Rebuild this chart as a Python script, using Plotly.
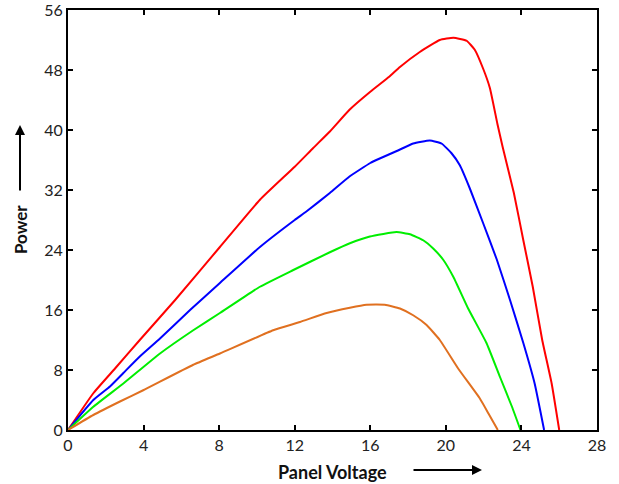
import plotly.graph_objects as go

# Panel voltage (V) and power (W)
red_v = [0, 1.34, 2.49, 3.8, 5.66, 8.04, 10.16, 12.0, 12.98, 13.86, 14.9, 16.0, 17.0, 17.57, 18.62, 19.68,
         20.4, 21.1, 21.53, 21.97, 22.33, 22.73, 23.0, 23.6, 24.1, 24.6, 25.1, 25.6, 26.0]
red_p = [0, 4.9, 8.2, 12.0, 17.3, 24.4, 30.7, 35.1, 37.6, 39.8, 42.7, 45.1, 47.1, 48.4, 50.4, 52.0,
         52.3, 51.9, 50.7, 48.2, 45.6, 40.8, 37.8, 31.6, 25.3, 19.1, 12.0, 6.2, 0]

blue_v = [0, 1.34, 2.22, 2.93, 3.8, 4.87, 6.46, 8.04, 10.16, 12.0, 12.6, 13.86, 14.9, 16.0, 16.5, 17.4,
          18.27, 19.15, 19.77, 20.3, 20.74, 21.27, 21.97, 22.7, 23.4, 24.1, 24.7, 25.2]
blue_p = [0, 4.0, 5.8, 7.6, 9.8, 12.2, 16.0, 19.6, 24.4, 28.0, 29.1, 31.6, 33.8, 35.6, 36.2, 37.2,
          38.2, 38.6, 38.2, 36.9, 35.3, 32.2, 27.6, 22.7, 17.3, 11.6, 6.2, 0]

green_v = [0, 1.34, 2.93, 4.87, 6.63, 8.04, 10.16, 11.9, 13.86, 14.92, 15.98, 17.39, 18.1, 18.8, 19.33,
           19.86, 20.4, 21.18, 22.15, 22.86, 23.5, 23.95]
green_p = [0, 3.1, 6.2, 10.2, 13.3, 15.6, 19.1, 21.3, 23.7, 24.9, 25.8, 26.4, 26.1, 25.3, 24.2,
           22.7, 20.4, 16.2, 11.6, 7.1, 3.1, 0]

orange_v = [0, 1.34, 2.75, 3.98, 6.63, 8.04, 10.86, 12.28, 13.69, 14.92, 15.8, 16.77, 17.57, 18.27,
            18.98, 19.68, 20.65, 21.8, 22.3, 22.75]
orange_p = [0, 2.0, 3.8, 5.3, 8.7, 10.2, 13.3, 14.4, 15.6, 16.3, 16.7, 16.7, 16.2, 15.3,
            14.0, 12.0, 8.2, 4.2, 2.0, 0]

x_ticks = [0, 4, 8, 12, 16, 20, 24, 28]
y_ticks = [0, 8, 16, 24, 32, 40, 48, 56]

series = [
    (red_v, red_p, "#ff0000"),
    (blue_v, blue_p, "#0000ff"),
    (green_v, green_p, "#00ee00"),
    (orange_v, orange_p, "#e07020"),
]

fig = go.Figure()
for v, p, c in series:
    fig.add_trace(go.Scatter(x=v, y=p, mode="lines", line=dict(color=c, width=2, shape="spline", smoothing=0.4),
                             showlegend=False, hoverinfo="skip"))

FONT = "Lato, Open Sans, sans-serif"
axis_common = dict(showgrid=False, zeroline=False, showline=True, linecolor="black", linewidth=2,
                   mirror="ticks", ticks="inside", ticklen=5, tickwidth=1.5, tickcolor="black",
                   automargin=False, ticklabeloverflow="allow",
                   tickfont=dict(family=FONT, size=16, color="#222222"))

fig.update_xaxes(range=[0, 28], tickvals=x_ticks, ticktext=[str(t) for t in x_ticks], **axis_common)
fig.update_yaxes(range=[0, 56], tickvals=y_ticks, ticktext=[str(t) for t in y_ticks], **axis_common)

W, H = 619, 484
L, R, T, B = 68, 22, 10, 54
pw, ph = W - L - R, H - T - B

def px(x):
    return (x - L) / pw

def py(y):
    return (H - B - y) / ph

fig.add_annotation(x=px(20), y=py(230), xref="paper", yref="paper", text="<b>Power</b>", textangle=-90,
                   xanchor="center", yanchor="middle",
                   showarrow=False, font=dict(family=FONT, size=17, color="#111111"))
fig.add_annotation(x=px(332), y=py(472), xref="paper", yref="paper", text="<b>Panel Voltage</b>",
                   xanchor="center", yanchor="middle",
                   showarrow=False, font=dict(family=FONT, size=18, color="#111111"))
fig.add_annotation(x=px(20), y=py(125), xref="paper", yref="paper", text="", showarrow=True,
                   ax=0, ay=67, arrowhead=2, arrowsize=1, arrowwidth=2, arrowcolor="black")
fig.add_annotation(x=px(482), y=py(470), xref="paper", yref="paper", text="", showarrow=True,
                   ax=-70, ay=0, arrowhead=2, arrowsize=1, arrowwidth=2, arrowcolor="black")

fig.update_layout(width=W, height=H, margin=dict(l=L, r=R, t=T, b=B, autoexpand=False),
                  paper_bgcolor="white", plot_bgcolor="white")

fig.write_html("out.html", config={"displayModeBar": False},
               post_script="document.body.style.margin='0';")
